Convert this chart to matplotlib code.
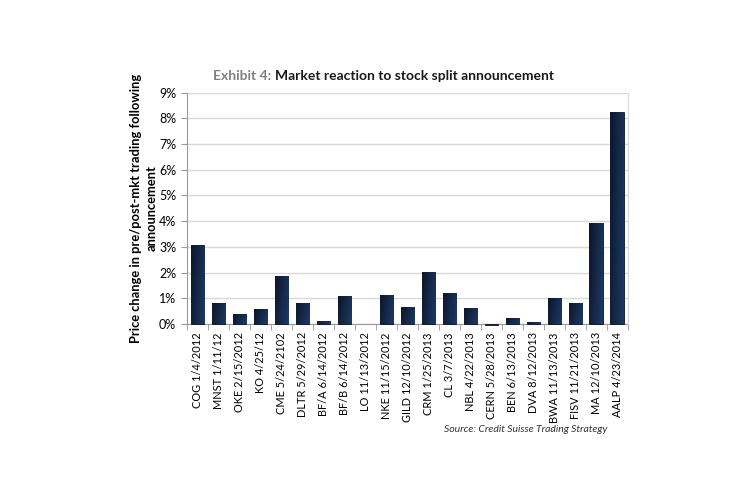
import matplotlib
matplotlib.use("Agg")
import matplotlib.pyplot as plt
import numpy as np
from matplotlib.ticker import PercentFormatter

plt.rcParams['font.family'] = ['Lato', 'DejaVu Sans']

labels = ['COG 1/4/2012', 'MNST 1/11/12', 'OKE 2/15/2012', 'KO 4/25/12',
          'CME 5/24/2102', 'DLTR 5/29/2012', 'BF/A 6/14/2012', 'BF/B 6/14/2012',
          'LO 11/13/2012', 'NKE 11/15/2012', 'GILD 12/10/2012', 'CRM 1/25/2013',
          'CL 3/7/2013', 'NBL 4/22/2013', 'CERN 5/28/2013', 'BEN 6/13/2013',
          'DVA 8/12/2013', 'BWA 11/13/2013', 'FISV 11/21/2013', 'MA 12/10/2013',
          'AALP 4/23/2014']
values = [3.06, 0.80, 0.37, 0.56, 1.85, 0.80, 0.13, 1.07, 0.0, 1.11, 0.64,
          2.01, 1.19, 0.60, -0.05, 0.21, 0.09, 0.99, 0.83, 3.92, 8.27]

fig = plt.figure(figsize=(7.49, 4.99), dpi=100)
ax = fig.add_axes([0.25, 0.351, 0.588, 0.463])

x = np.arange(len(values))
width = 0.64
bars = ax.bar(x, values, width=width, color='#16294a', edgecolor='#0b1526',
              linewidth=0.6, zorder=2, clip_on=False)

# gradient fill inside each bar
grad = np.linspace(0, 1, 64)
gx, gy = np.meshgrid(grad, grad)
g = 0.75 * gx + 0.25 * (1 - gy)
cmap = matplotlib.colors.LinearSegmentedColormap.from_list('bar', ['#0c1628', '#1d3a68'])
for b in bars:
    h = b.get_height()
    if h == 0:
        b.set_visible(False)
        continue
    if h < 0:
        continue
    x0 = b.get_x()
    im = ax.imshow(g, cmap=cmap, extent=[x0, x0 + b.get_width(), 0, h],
                   aspect='auto', origin='lower', zorder=2.5)
    im.set_clip_path(b)

ax.set_xlim(-0.5, len(values) - 0.5)
ax.set_ylim(0, 9)
ax.set_yticks(np.arange(0, 10, 1))
ax.yaxis.set_major_formatter(PercentFormatter(decimals=0))
ax.grid(axis='y', color='#d9d9d9', linewidth=1.0, zorder=0)
ax.set_axisbelow(True)

ax.set_xticks(x)
ax.set_xticklabels(labels, rotation=90, fontsize=7.9)
ax.set_xticks(np.arange(-0.5, len(values), 1), minor=True)
ax.tick_params(axis='x', which='major', length=0, pad=6)
ax.tick_params(axis='x', which='minor', length=4, color='#999999', direction='out')
ax.tick_params(axis='y', length=4, color='#999999', labelsize=9, pad=4)

ax.spines['top'].set_visible(False)
ax.spines['right'].set_color('#d9d9d9')
ax.spines['left'].set_color('#999999')
ax.spines['bottom'].set_color('#999999')
ax.spines['bottom'].set_zorder(1.5)

ax.set_ylabel('Price change in pre/post-mkt trading following\nannouncement',
              fontsize=9.3, fontweight='bold', labelpad=1, linespacing=1.35)

# title in two colours
fig.canvas.draw()
t1 = fig.text(213 / 749, 1 - 76 / 499, 'Exhibit 4:', fontsize=10, fontweight='bold',
              color='#808080', va='center', ha='left')
fig.canvas.draw()
bb = t1.get_window_extent()
fig.text((bb.x1 + 4) / 749, 1 - 76 / 499, 'Market reaction to stock split announcement',
         fontsize=10, fontweight='bold', color='#1a1a1a', va='center', ha='left')

fig.text(607 / 749, 1 - 429 / 499, 'Source: Credit Suisse Trading Strategy',
         fontsize=7.5, style='italic', color='#333333', ha='right', va='center')

fig.savefig('out.png', dpi=100, facecolor='white')
